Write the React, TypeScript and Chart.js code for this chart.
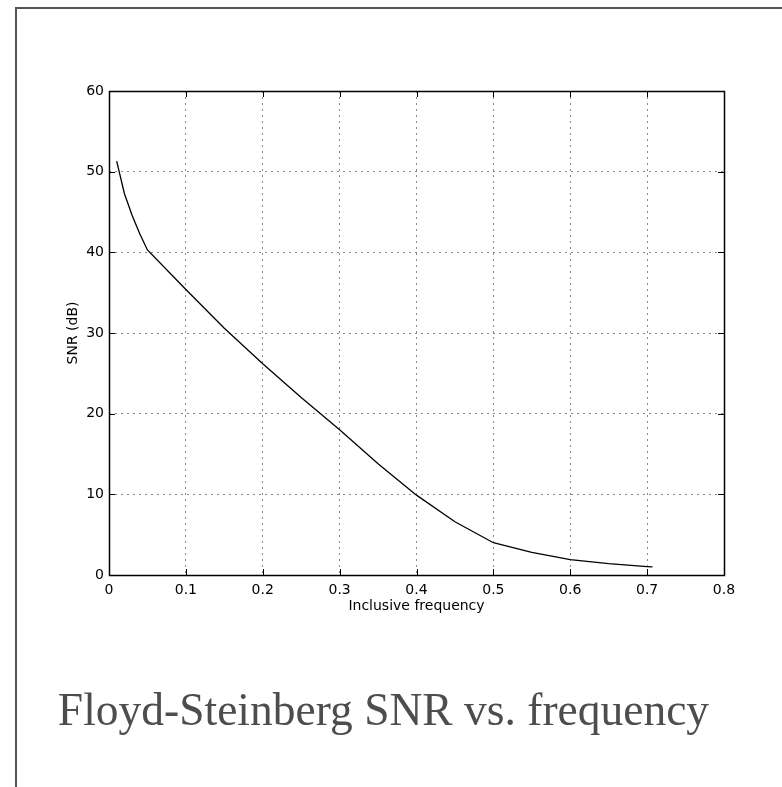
import React, { useEffect, useRef } from "react";
import { Chart, registerables } from "chart.js";

Chart.register(...registerables);

// Data
const frequencies = [0.01, 0.02, 0.03, 0.04, 0.05, 0.1, 0.15, 0.2, 0.25, 0.3, 0.35, 0.4, 0.45, 0.5, 0.55, 0.6, 0.65, 0.7, 0.707];
const snrDb = [51.3, 47.3, 44.6, 42.3, 40.3, 35.4, 30.6, 26.2, 22.0, 18.0, 13.8, 9.9, 6.6, 4.0, 2.8, 1.9, 1.4, 1.05, 1.0];
const xTicks = [0, 0.1, 0.2, 0.3, 0.4, 0.5, 0.6, 0.7, 0.8];
const yTicks = [0, 10, 20, 30, 40, 50, 60];
const xTitle = "Inclusive frequency";
const yTitle = "SNR (dB)";
const chartTitle = "Floyd-Steinberg SNR vs. frequency";

const W = 782;
const H = 787;
const AXIS_FONT = "'DejaVu Sans', sans-serif";

const boxPlugin = {
  id: "matlabBox",
  afterDatasetsDraw(chart: any) {
    const { ctx, chartArea, scales } = chart;
    const { left, right, top, bottom } = chartArea;
    const tl = 6;
    ctx.save();
    ctx.strokeStyle = "#000";
    ctx.lineWidth = 1;
    ctx.beginPath();
    for (const v of xTicks) {
      const x = Math.round(scales.x.getPixelForValue(v)) + 0.5;
      ctx.moveTo(x, bottom);
      ctx.lineTo(x, bottom - tl);
      ctx.moveTo(x, top);
      ctx.lineTo(x, top + tl);
    }
    for (const v of yTicks) {
      const y = Math.round(scales.y.getPixelForValue(v)) + 0.5;
      ctx.moveTo(left, y);
      ctx.lineTo(left + tl, y);
      ctx.moveTo(right, y);
      ctx.lineTo(right - tl, y);
    }
    ctx.stroke();
    ctx.lineWidth = 1.5;
    ctx.strokeRect(Math.round(left) + 0.5, Math.round(top) + 0.5, Math.round(right - left), Math.round(bottom - top));
    ctx.restore();
  },
};

export default function App() {
  const canvasRef = useRef<HTMLCanvasElement | null>(null);

  useEffect(() => {
    const canvas = canvasRef.current;
    if (!canvas) return;
    const chart = new Chart(canvas, {
      type: "line",
      data: {
        datasets: [
          {
            label: yTitle,
            data: frequencies.map((f, i) => ({ x: f, y: snrDb[i] })),
            borderColor: "#000",
            borderWidth: 1.3,
            pointRadius: 0,
            tension: 0,
            fill: false,
          },
        ],
      },
      options: {
        responsive: false,
        animation: false,
        devicePixelRatio: 1,
        layout: { padding: { left: 0, top: 91, right: 58, bottom: 0 } },
        plugins: { legend: { display: false }, tooltip: { enabled: false }, title: { display: false } },
        scales: {
          x: {
            type: "linear",
            min: 0,
            max: 0.8,
            afterFit: (scale: any) => {
              scale.height = H - 575;
            },
            afterBuildTicks: (scale: any) => {
              scale.ticks = xTicks.map((v) => ({ value: v }));
            },
            ticks: {
              padding: 7,
              color: "#000",
              font: { family: AXIS_FONT, size: 14 },
              callback: (v: any) => String(Math.round(Number(v) * 10) / 10),
              maxRotation: 0,
            },
            grid: { color: "#888", lineWidth: 1, drawTicks: false },
            border: { display: false, dash: [2, 4] },
            title: {
              display: true,
              text: xTitle,
              color: "#000",
              font: { family: AXIS_FONT, size: 14 },
              padding: { top: 0, bottom: 172 },
            },
          },
          y: {
            type: "linear",
            min: 0,
            max: 60,
            afterFit: (scale: any) => {
              scale.width = 109;
            },
            afterBuildTicks: (scale: any) => {
              scale.ticks = yTicks.map((v) => ({ value: v }));
            },
            ticks: {
              padding: 5,
              color: "#000",
              font: { family: AXIS_FONT, size: 14 },
            },
            grid: { color: "#888", lineWidth: 1, drawTicks: false },
            border: { display: false, dash: [2, 4] },
            title: {
              display: true,
              text: yTitle,
              color: "#000",
              font: { family: AXIS_FONT, size: 14 },
              padding: { top: 65, bottom: 0 },
            },
          },
        },
      },
      plugins: [boxPlugin],
    });
    return () => chart.destroy();
  }, []);

  return (
    <div style={{ position: "absolute", left: 0, top: 0, width: W, height: H, overflow: "hidden", background: "#fff" }}>
      <div
        style={{
          position: "absolute",
          left: 15,
          top: 7,
          width: W + 20,
          height: H + 20,
          borderTop: "2px solid #555",
          borderLeft: "2px solid #555",
          boxSizing: "border-box",
        }}
      />
      <canvas
        ref={canvasRef}
        width={W}
        height={H}
        style={{ position: "absolute", left: 0, top: 0, width: W, height: H, display: "block" }}
      />
      <div
        style={{
          position: "absolute",
          left: 0,
          top: 687,
          width: 767,
          textAlign: "center",
          fontFamily: "'Liberation Serif', 'Times New Roman', serif",
          fontSize: 45.5,
          lineHeight: "45.5px",
          color: "#4d4d4d",
          whiteSpace: "nowrap",
        }}
      >
        {chartTitle}
      </div>
    </div>
  );
}
